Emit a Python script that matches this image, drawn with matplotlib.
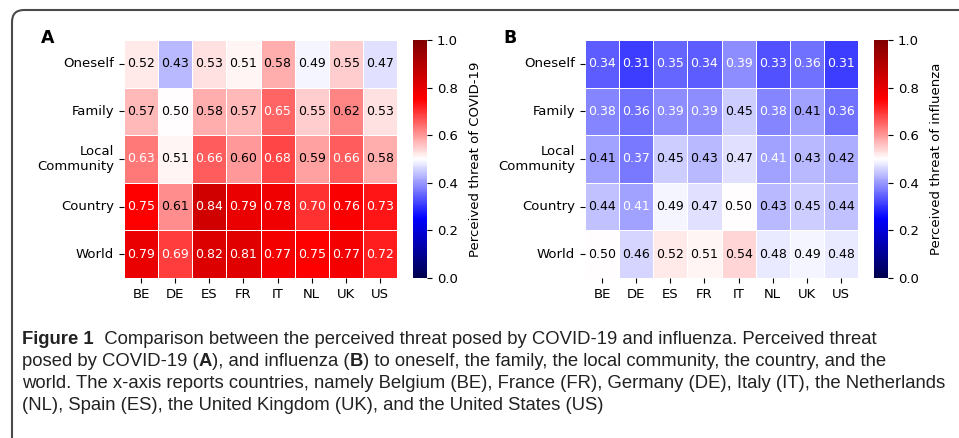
import numpy as np
import matplotlib
matplotlib.use('Agg')
from matplotlib import pyplot as plt
from matplotlib.patches import FancyBboxPatch
from matplotlib.transforms import IdentityTransform
import seaborn as sns

countries = ['BE', 'DE', 'ES', 'FR', 'IT', 'NL', 'UK', 'US']
targets = ['Oneself', 'Family', 'Local\nCommunity', 'Country', 'World']

covid = np.array([
	[0.52, 0.43, 0.53, 0.51, 0.58, 0.49, 0.55, 0.47],
	[0.57, 0.50, 0.58, 0.57, 0.65, 0.55, 0.62, 0.53],
	[0.63, 0.51, 0.66, 0.60, 0.68, 0.59, 0.66, 0.58],
	[0.75, 0.61, 0.84, 0.79, 0.78, 0.70, 0.76, 0.73],
	[0.79, 0.69, 0.82, 0.81, 0.77, 0.75, 0.77, 0.72],
])
flu = np.array([
	[0.34, 0.31, 0.35, 0.34, 0.39, 0.33, 0.36, 0.31],
	[0.38, 0.36, 0.39, 0.39, 0.45, 0.38, 0.41, 0.36],
	[0.41, 0.37, 0.45, 0.43, 0.47, 0.41, 0.43, 0.42],
	[0.44, 0.41, 0.49, 0.47, 0.50, 0.43, 0.45, 0.44],
	[0.50, 0.46, 0.52, 0.51, 0.54, 0.48, 0.49, 0.48],
])

# annotation text colour as it appears in the figure (1 = white text)
covid_white = [
	[0, 0, 0, 0, 0, 0, 0, 0],
	[0, 0, 0, 0, 1, 0, 0, 0],
	[1, 0, 1, 0, 1, 0, 1, 0],
	[1, 0, 1, 1, 1, 1, 1, 1],
	[1, 1, 1, 1, 1, 1, 1, 1],
]
flu_white = [
	[1, 1, 1, 1, 1, 1, 1, 1],
	[1, 1, 1, 1, 0, 1, 0, 1],
	[0, 1, 0, 0, 0, 1, 0, 0],
	[0, 1, 0, 0, 0, 0, 0, 0],
	[0, 0, 0, 0, 0, 0, 0, 0],
]

W, H = 959, 438
fig = plt.figure(figsize=(W / 100, H / 100), dpi=100)


def px_axes(x0, y0, x1, y1):
	return fig.add_axes([x0 / W, 1 - y1 / H, (x1 - x0) / W, (y1 - y0) / H])


def panel(data, white, hx, cx, label, cbar_label, letter):
	ax = px_axes(hx, 40, hx + 273, 278)
	cax = px_axes(cx, 40, cx + 14, 278)
	sns.heatmap(data, ax=ax, cbar_ax=cax, cmap='seismic', vmin=0, vmax=1,
		annot=True, fmt='.2f', linewidths=0.6, linecolor='white',
		annot_kws={'fontsize': 9}, xticklabels=countries, yticklabels=targets)
	for t, w in zip(ax.texts, np.array(white).ravel()):
		t.set_color('white' if w else 'black')
	ax.tick_params(axis='both', labelsize=9.5)
	ax.set_yticklabels(targets, rotation=0)
	ax.set_xticklabels(countries, rotation=0)
	cax.tick_params(labelsize=9.5)
	cax.set_yticks([0, 0.2, 0.4, 0.6, 0.8, 1.0])
	cax.set_ylabel(cbar_label, fontsize=9.5, labelpad=8)
	fig.text(letter / W, 1 - 38 / H, label, fontsize=12.5, fontweight='bold',
		ha='center', va='center')


panel(covid, covid_white, 124, 413, 'A', 'Perceived threat of COVID-19', 48)
panel(flu, flu_white, 585, 874, 'B', 'Perceived threat of influenza', 510)

# rounded frame around the figure
frame = FancyBboxPatch((12, -60), 1100, H - 10 + 60,
	boxstyle='round,pad=0,rounding_size=12', transform=IdentityTransform(),
	fill=False, ec='#4a4a4a', lw=1.5)
fig.add_artist(frame)

# caption with mixed bold / regular pieces
cap_font = ['Liberation Sans', 'DejaVu Sans']
cap_size = 13.3
lines = [
	[('Figure 1', 'bold'), ('  Comparison between the perceived threat posed by COVID-19 and influenza. Perceived threat', 'normal')],
	[('posed by COVID-19 (', 'normal'), ('A', 'bold'), ('), and influenza (', 'normal'), ('B', 'bold'),
		(') to oneself, the family, the local community, the country, and the', 'normal')],
	[('world. The x-axis reports countries, namely Belgium (BE), France (FR), Germany (DE), Italy (IT), the Netherlands', 'normal')],
	[('(NL), Spain (ES), the United Kingdom (UK), and the United States (US)', 'normal')],
]
renderer = fig.canvas.get_renderer()
y = H - 340
for line in lines:
	x = 22
	for s, wgt in line:
		t = fig.text(x, y, s, transform=IdentityTransform(), fontsize=cap_size,
			fontweight=wgt, family=cap_font, va='center', ha='left', color='#222222')
		x = t.get_window_extent(renderer).x1
	y -= 22

plt.savefig('out.png', dpi=100)
